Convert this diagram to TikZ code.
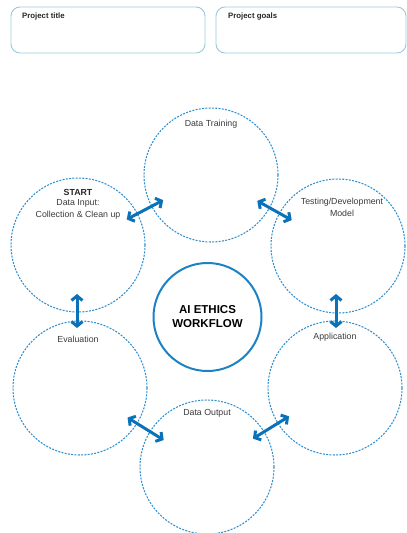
\documentclass[tikz,border=0pt]{standalone}
\usepackage{fontspec}
\setmainfont{Liberation Sans}
\usetikzlibrary{arrows.meta}
\definecolor{dashblue}{HTML}{2F8FCF}
\definecolor{arrblue}{HTML}{0B72B9}
\definecolor{ringblue}{HTML}{1C82C4}
\definecolor{boxblue}{HTML}{9CC8DE}
\definecolor{txtgray}{HTML}{3A3A3A}
\tikzset{
  stage/.style={circle, draw=dashblue, line width=1.05pt, dash pattern=on 2pt off 1.3pt, minimum size=134pt, inner sep=0pt},
  hub/.style={circle, draw=ringblue, line width=2pt, minimum size=108pt, inner sep=0pt, align=center, font=\fontsize{11.5}{14}\selectfont\bfseries, text=black},
  lbl/.style={font=\fontsize{8.8}{12}\selectfont, text=txtgray, align=center, inner sep=0pt},
  boxlbl/.style={font=\fontsize{7.8}{9}\selectfont\bfseries, text=black!85, anchor=west, inner sep=0pt},
  infobox/.style={draw=boxblue, line width=0.9pt, rounded corners=9pt},
  biarrow/.style={draw=arrblue, line width=3pt, {Straight Barb[length=4.5pt,width=11pt]}-{Straight Barb[length=4.5pt,width=11pt]}}
}
\begin{document}
\begin{tikzpicture}[x=1pt,y=-1pt]
\useasboundingbox (0,0) rectangle (407,533);
% top boxes
\draw[infobox] (11,7) rectangle (205,53);
\draw[infobox] (216,7) rectangle (406,53);
\node[boxlbl] (ptitle) at (22,16) {Project title};
\node[boxlbl] (pgoals) at (228,16) {Project goals};
% stage circles
\node[stage] (start) at (78,245) {};
\node[stage] (train) at (211,175) {};
\node[stage] (test) at (338,246) {};
\node[stage] (app) at (335,388) {};
\node[stage] (out) at (207,467) {};
\node[stage] (eval) at (80,388) {};
% hub
\node[hub] (hub) at (207.5,317) {AI ETHICS\\WORKFLOW};
% labels
\node[lbl, font=\fontsize{8.8}{12}\selectfont\bfseries, text=black!85] (startlbl) at (78,192) {START};
\node[lbl] (startsub) at (78,209) {Data Input:\\Collection \& Clean up};
\node[lbl] (trainlbl) at (211,124) {Data Training};
\node[lbl] (testlbl) at (342,207) {Testing/Development\\Model};
\node[lbl] (applbl) at (335,337) {Application};
\node[lbl] (outlbl) at (207,413) {Data Output};
\node[lbl] (evallbl) at (78,339) {Evaluation};
% arrows
\draw[biarrow, shorten <=55pt, shorten >=54pt] (start.center) -- (train.center);
\draw[biarrow, shorten <=53pt, shorten >=53pt] (train.center) -- (test.center);
\draw[biarrow, shorten <=48pt, shorten >=60pt] (test.center -| 336,0) -- (app.center -| 336,0);
\draw[biarrow, shorten <=54pt, shorten >=54pt] (app.center) -- (out.center);
\draw[biarrow, shorten <=56pt, shorten >=51pt] (eval.center) -- (out.center);
\draw[biarrow, shorten <=49pt, shorten >=60pt] (start.center -| 77,0) -- (eval.center -| 77,0);
\end{tikzpicture}
\end{document}
